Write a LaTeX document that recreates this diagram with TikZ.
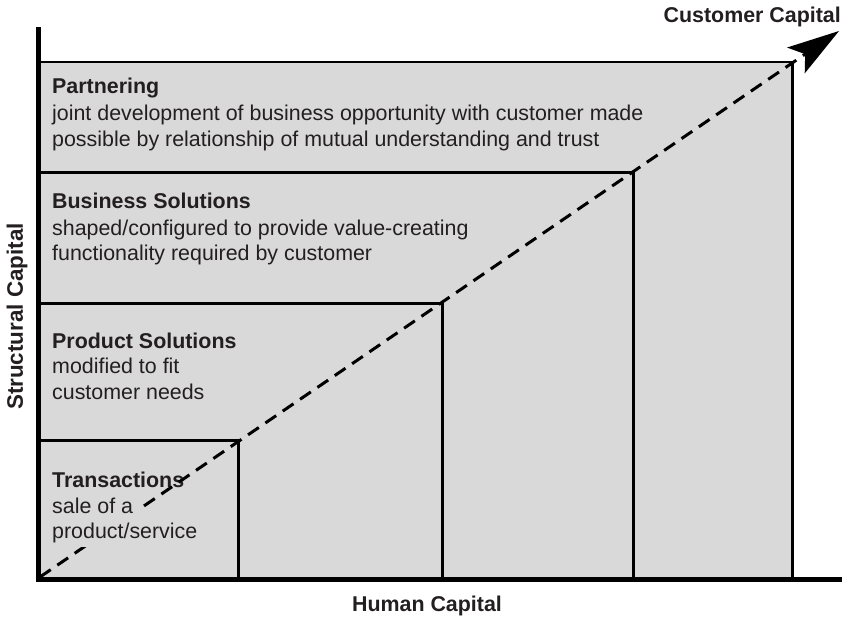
\documentclass[tikz,border=0pt]{standalone}
\usepackage{fontspec}
\setmainfont{Liberation Sans}
\usetikzlibrary{arrows.meta}
\definecolor{boxgray}{RGB}{217,217,217}
\definecolor{ink}{RGB}{35,31,32}
\begin{document}
\begin{tikzpicture}[x=1pt,y=-1pt,
  every node/.style={inner sep=0pt, text=ink, font=\fontsize{21.4}{25.5}\selectfont},
  head/.style={anchor=base west, font=\fontsize{21.4}{25.5}\selectfont\bfseries},
  bodyfill/.style={anchor=base west, fill=boxgray, inner xsep=8pt, inner ysep=1pt,
    text height=17pt, text depth=7pt},
  axlabel/.style={font=\fontsize{21.4}{25.5}\selectfont\bfseries},
  stage/.style={draw=black, line width=2.6pt, fill=boxgray},
  axis/.style={draw=black, line width=5pt, line join=miter},
  trend/.style={draw=black, line width=3pt, dash pattern=on 13pt off 8pt,
    -{Stealth[length=52pt,width=31pt,inset=11pt]}}
]
\useasboundingbox (0,0) rectangle (843,618);
% corners
\coordinate (O) at (38.5,579);
\coordinate (cP) at (792.3,62);
\coordinate (cB) at (633.3,172.5);
\coordinate (cR) at (442.5,303.5);
\coordinate (cT) at (238.3,440.5);
\coordinate (tip) at (839,31);
\coordinate (yTop) at (38.5,27);
\coordinate (xEnd) at (842,579);
% stage boxes
\draw[stage] (O) rectangle (cP);
\draw[stage] (O) rectangle (cB);
\draw[stage] (O) rectangle (cR);
\draw[stage] (O) rectangle (cT);
% headings
\node[head] (hP) at (52,93) {Partnering};
\node[head] (hB) at (52,208.5) {Business Solutions};
\node[head] (hR) at (52,348.5) {Product Solutions};
\node[head] (hT) at (52,487) {Transactions};
% trend line
\draw[trend] (40,577) -- (tip);
% descriptions
\node[bodyfill] (p1) at (44,120.5) {joint development of business opportunity with customer made};
\node[bodyfill] (p2) at (44,146) {possible by relationship of mutual understanding and trust};
\node[bodyfill] (b1) at (44,235) {shaped/configured to provide value-creating};
\node[bodyfill] (b2) at (44,260.5) {functionality required by customer};
\node[bodyfill] (r1) at (44,373.5) {modified to fit};
\node[bodyfill] (r2) at (44,399.5) {customer needs};
\node[bodyfill] (t1) at (44,513) {sale of a};
\node[bodyfill] (t2) at (44,538.5) {product/service};
% axes
\draw[axis] (yTop) |- (xEnd);
% axis labels
\node[axlabel, anchor=base east] (cc) at (841,22.5) {Customer Capital};
\node[axlabel, anchor=base] (hc) at (427,611.5) {Human Capital};
\node[axlabel, anchor=base, rotate=90, font=\fontsize{22.4}{26}\selectfont\bfseries] (sc) at (23,316.5) {Structural Capital};
\end{tikzpicture}
\end{document}
